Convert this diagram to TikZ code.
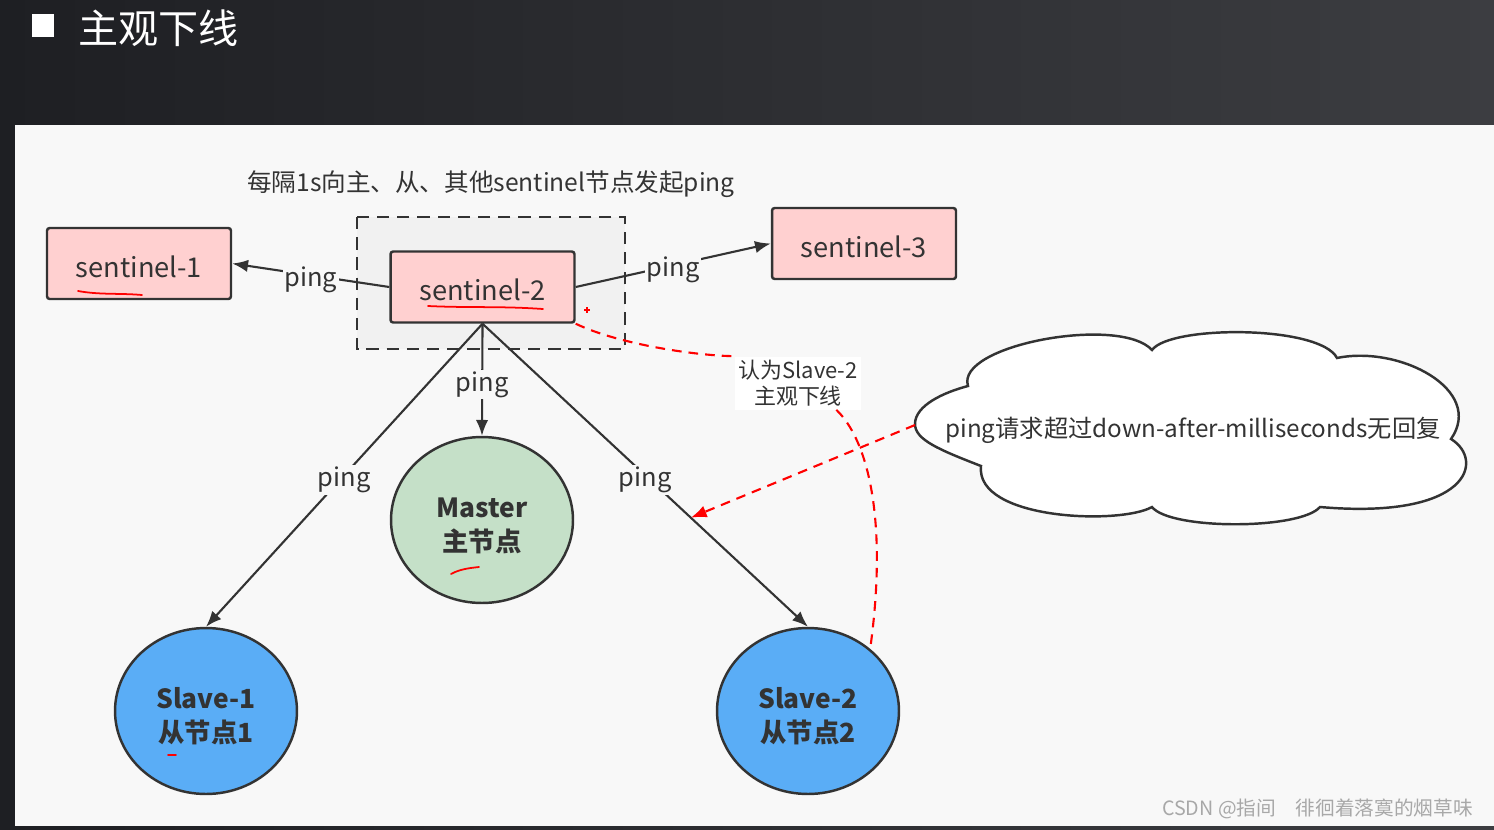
\documentclass[tikz,border=0pt]{standalone}
\usepackage{fontspec}
\setmainfont{Noto Sans CJK SC}
\usetikzlibrary{arrows.meta,shapes.geometric}
\definecolor{bgdark}{HTML}{1E1F23}
\definecolor{bglight}{HTML}{3C3D41}
\definecolor{panel}{HTML}{F8F8F8}
\definecolor{framefill}{HTML}{F1F1F1}
\definecolor{linegray}{HTML}{333333}
\definecolor{textgray}{HTML}{333333}
\definecolor{pinkbox}{HTML}{FFD0D0}
\definecolor{mastergreen}{HTML}{C5E0C8}
\definecolor{slaveblue}{HTML}{5AADF6}
\definecolor{markgray}{HTML}{A8A8A8}
\newcommand{\nodelines}[2]{\raisebox{-4.2pt}[\height][\depth]{\begin{tabular}{@{}c@{}}#1\\#2\end{tabular}}}

\begin{document}
\begin{tikzpicture}[x=0.02cm,y=-0.02cm,
    sentbox/.style={draw=linegray,line width=1.4pt,fill=pinkbox,rounded corners=1.5pt,
      minimum width=3.68cm,minimum height=1.42cm,text=textgray,font=\fontsize{15.5}{18}\selectfont,
      execute at begin node=\rule{0pt}{16pt}},
    redisnode/.style={ellipse,draw=linegray,line width=1.4pt,minimum width=3.64cm,minimum height=3.32cm,
      text=textgray,font=\bfseries\fontsize{15}{19.2}\selectfont},
    pingline/.style={draw=linegray,line width=1.2pt,-{Latex[length=9pt,width=7pt]}},
    pinglabel/.style={fill=panel,inner sep=1pt,yshift=-2.8pt,text=textgray,font=\fontsize{14.5}{16}\selectfont},
    reddash/.style={draw=red,line width=1.2pt,dash pattern=on 5.5pt off 4pt},
    scribble/.style={draw=red,line width=1pt,line cap=round}]
\useasboundingbox (0,0) rectangle (1494,829);
% screen and slide
\shade[left color=bgdark,right color=bglight] (0,0) rectangle (1494,829);
\fill[panel] (15,125) rectangle (1494,826);
\fill[white] (32,14) rectangle (54,37);
\node[anchor=west,text=white,font=\fontsize{22.8}{26}\selectfont] (title) at (72,28) {主观下线};
\node[text=textgray,font=\fontsize{14}{16}\selectfont] (note) at (491,184) {每隔1s向主、从、其他sentinel节点发起ping};
\draw[linegray,line width=1.4pt,fill=framefill,dash pattern=on 7pt off 4.5pt] (357,217) rectangle (625,349);

\node[sentbox] (s1) at (139,263.5) {sentinel-1};
\node[sentbox] (s2) at (482.5,287) {sentinel-2};
\node[sentbox] (s3) at (864,243.5) {sentinel-3};
\node[redisnode,fill=mastergreen] (master) at (482,520) {\nodelines{Master}{主节点}};
\node[redisnode,fill=slaveblue] (slave1) at (206,711) {\nodelines{Slave-1}{从节点1}};
\node[redisnode,fill=slaveblue] (slave2) at (808,711) {\nodelines{Slave-2}{从节点2}};

\draw[pingline] (s2.west) -- node[pinglabel] {ping} (s1.east);
\draw[pingline] (s2.east) -- node[pinglabel] {ping} (s3.west);
\draw[pingline] (s2.south) -- node[pinglabel] {ping} (master.north);
\draw[pingline] (s2.south) -- node[pinglabel] {ping} (slave1.north);
\draw[pingline] (s2.south) -- coordinate[pos=0.64] (hit) node[pinglabel] {ping} (slave2.north);

% subjective down
\node[fill=white,inner sep=2pt,align=center,text=textgray,font=\fontsize{12.5}{14.7}\selectfont] (judge) at (798,383) {认为Slave-2\\主观下线};
\draw[reddash] (s2.south east) .. controls (620,345) and (700,356) .. (judge.north west);
\draw[reddash] (judge.-35) .. controls (868,440) and (888,520) .. (slave2.45);

% cloud
\draw[linegray,line width=1.4pt,fill=white] (915,424)
  .. controls (915,405) and (945,392) .. (968,386)
  .. controls (955,345) and (1120,315) .. (1152,350)
  .. controls (1170,325) and (1320,325) .. (1337,358)
  .. controls (1400,345) and (1485,390) .. (1451,439)
  .. controls (1485,460) and (1470,520) .. (1320,507)
  .. controls (1300,530) and (1170,530) .. (1152,507)
  .. controls (1120,525) and (975,520) .. (981,466)
  .. controls (940,450) and (915,440) .. cycle;
\node[text=textgray,font=\fontsize{13.8}{16}\selectfont] (cloudtxt) at (1193,430) {ping请求超过down-after-milliseconds无回复};
\coordinate (cloudtip) at (915,425);
\draw[reddash,-{Latex[length=9pt,width=7pt]}] (cloudtip) -- (hit);

% marks on the slide
\draw[scribble] (78,291) .. controls (100,295) and (120,293) .. (142,295);
\draw[scribble] (428,306) .. controls (470,308) and (500,306) .. (543,309);
\draw[scribble] (451,574) .. controls (460,569) and (470,568) .. (479,567);
\draw[scribble] (168,755) -- (176,755);
\draw[red,line width=0.7pt] (584,310) -- (590,310) (587,307) -- (587,313);
\node[anchor=east,text=markgray,font=\fontsize{11.2}{13}\selectfont] (mark) at (1479,809) {CSDN @指间　徘徊着落寞的烟草味};
\end{tikzpicture}
\end{document}
